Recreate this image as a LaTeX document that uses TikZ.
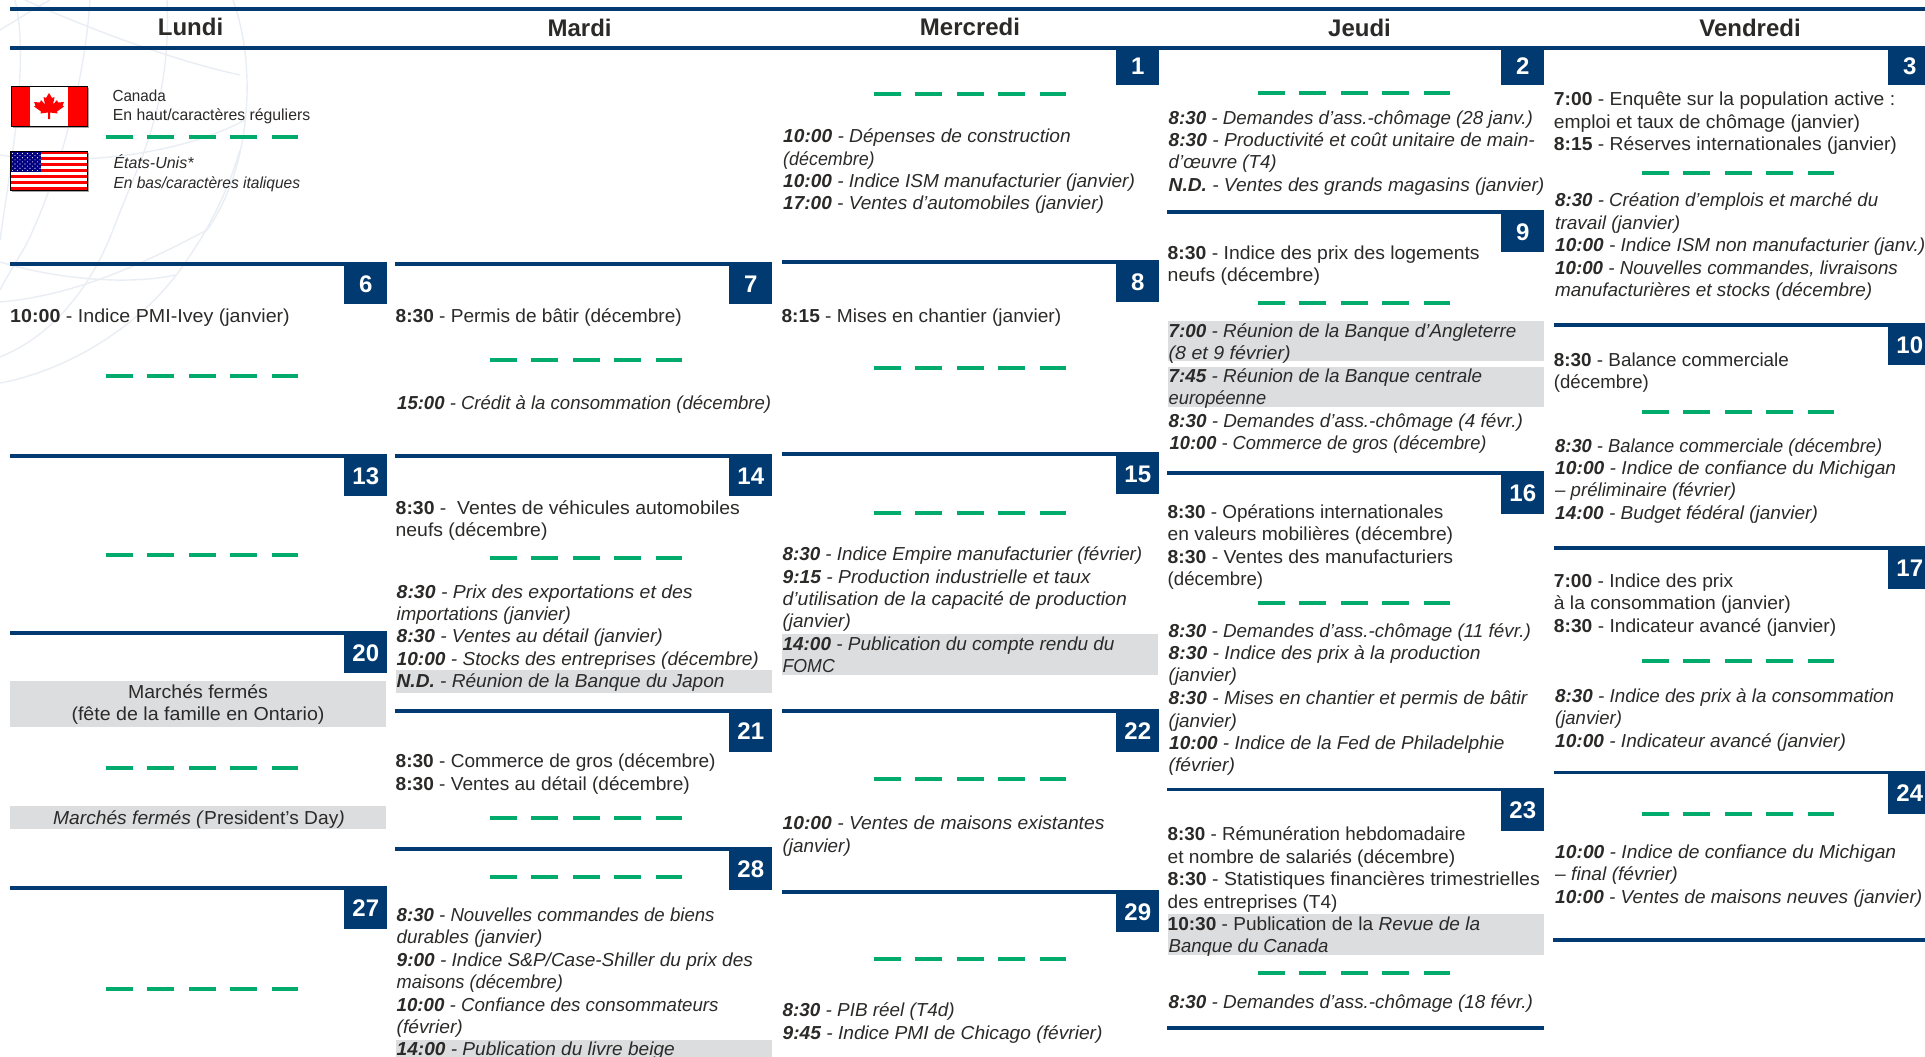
\documentclass[tikz,border=0pt]{standalone}
\usepackage{graphicx}
\usepackage{fontspec}
\setmainfont{Liberation Sans}
\definecolor{navy}{HTML}{003A70}
\definecolor{dashgreen}{HTML}{00AB6B}
\definecolor{barfill}{HTML}{DCDDDF}
\definecolor{ink}{HTML}{2B2A29}
\definecolor{globe}{HTML}{E9EEF5}
\newcounter{tln}
\newsavebox\tlbox
\tikzset{
  txtline/.style={anchor=base west,inner sep=0pt,text=ink,font=\fontsize{18.8}{22}\selectfont},
  legendline/.style={txtline,font=\fontsize{16}{20}\selectfont},
  midline/.style={txtline,anchor=base},
  dayname/.style={anchor=base,inner sep=0pt,text=ink,font=\fontsize{24}{28}\selectfont\bfseries},
  numbox/.style={anchor=north east,fill=navy,text=white,inner sep=0pt,minimum width=43pt,font=\fontsize{24}{28}\selectfont\bfseries},
  rulebar/.style={draw=navy,line width=3.7pt},
  greendash/.style={draw=dashgreen,line width=4pt,dash pattern=on 26.7pt off 14.7pt},
  barbg/.style={fill=barfill},
  globeline/.style={draw=globe,line width=1.4pt}
}
% set a text to a given width by horizontal scaling
\newcommand\fitw[2]{\sbox\tlbox{#2}\pgfmathsetmacro\fitf{(#1)/\the\wd\tlbox}\scalebox{\fitf}[1]{\usebox\tlbox}}
% one line of text: x-start, x-end, baseline y, text
\newcommand\tl[4]{\stepcounter{tln}\node[txtline] (tl\arabic{tln}) at (#1,#3) {\fitw{#2-#1}{#4}};}
% regular and italic entries
\newcommand\Rg[2]{{\bfseries #1} - #2}
\newcommand\It[2]{{\bfseries\itshape #1}\itshape{} - #2}
% separator of five green dashes
\newcommand\gd[2]{\path[greendash] (#1,#2) -- ++(192,0);}
% day rule and number boxes
\newcommand\dayrule[3]{\path[rulebar] (#1,#3) -- (#2,#3);}
\newcommand\numb[4]{\node[numbox,minimum height=#3-#2] (day#4) at (#1,#2) {\raisebox{-1.8pt}{\kern1pt #4}};}
\newcommand\numbtop[4]{\node[numbox,minimum height=#3-#2] (day#4) at (#1,#2) {\raisebox{0.3pt}{\kern1pt #4}};}
\begin{document}
\begin{tikzpicture}[x=1pt,y=-1pt]
\path[use as bounding box,clip] (0,0) rectangle (1925,1057);
\fill[white] (0,0) rectangle (1925,1057);
% watermark globe
\path[globeline] (0,302) .. controls (80,295) and (150,260) .. (207,230) .. controls (250,170) and (258,70) .. (233,0);
\path[globeline] (0,383) .. controls (70,370) and (140,325) .. (180,270) .. controls (205,235) and (225,200) .. (240,150);
\path[globeline] (0,357) .. controls (50,337) and (90,290) .. (113,230) .. controls (135,170) and (172,110) .. (167,0);
\path[globeline] (0,290) .. controls (10,270) and (25,250) .. (33,230) .. controls (60,170) and (85,80) .. (90,0);
\path[globeline] (25,0) .. controls (80,25) and (170,60) .. (240,75);
\path[globeline] (0,155) .. controls (60,165) and (170,160) .. (245,120);
\path[globeline] (0,30) .. controls (20,18) and (35,8) .. (50,0);
\path[globeline] (0,240) .. controls (10,170) and (30,60) .. (15,0);
\path[globeline] (0,262) .. controls (60,280) and (130,285) .. (175,275);
% day rules
\path[rulebar] (10,9.2) -- (1925,9.2);
\path[rulebar] (10,48) -- (1925,48);
\dayrule{10}{387}{264}\dayrule{10}{387}{456}\dayrule{10}{387}{632.9}\dayrule{10}{387}{888}
\dayrule{395}{772}{264}\dayrule{395}{772}{456}\dayrule{395}{772}{711}\dayrule{395}{772}{848.7}
\dayrule{782}{1159}{262}\dayrule{782}{1159}{454}\dayrule{782}{1159}{711}\dayrule{782}{1159}{891.9}
\dayrule{1167}{1544}{212}\dayrule{1167}{1544}{473}\dayrule{1167}{1544}{789.5}\dayrule{1167}{1544}{1027.8}
\dayrule{1554}{1925}{325}\dayrule{1554}{1925}{547.9}\dayrule{1554}{1925}{772.6}\dayrule{1553}{1925}{940.1}
% grey bars
\fill[barbg] (10,680.9) rectangle (386,726.9);
\fill[barbg] (10,806.4) rectangle (386,829.3);
\fill[barbg] (396,670.2) rectangle (772,692.7);
\fill[barbg] (396,1039.9) rectangle (772,1057);
\fill[barbg] (782,634.4) rectangle (1158,674.9);
\fill[barbg] (1168,321) rectangle (1544,361.4);
\fill[barbg] (1168,366.5) rectangle (1544,406.7);
\fill[barbg] (1168,914.2) rectangle (1544,954.9);
% number boxes
\numb{387}{264}{304}{6}\numb{387}{456}{496}{13}\numb{387}{632.9}{673.2}{20}\numb{387}{888}{928.7}{27}
\numb{772}{264}{304}{7}\numb{772}{456}{496}{14}\numb{772}{711}{751.7}{21}\numb{772}{848.7}{889.9}{28}
\numbtop{1159}{48}{85}{1}\numb{1159}{262}{302}{8}\numb{1159}{454}{494}{15}\numb{1159}{711}{751.7}{22}\numb{1159}{891.9}{931.7}{29}
\numbtop{1544}{48}{85}{2}\numb{1544}{212}{252}{9}\numb{1544}{473}{514}{16}\numb{1544}{789.5}{830.3}{23}
\numbtop{1931}{48}{85}{3}\numb{1931}{325}{365}{10}\numb{1931}{547.9}{588.7}{17}\numb{1931}{772.6}{813.4}{24}
% green dashes
\gd{106}{137}\gd{106}{375.6}\gd{106}{554.6}\gd{106}{767.6}\gd{106}{989.2}
\gd{490}{360.4}\gd{490}{558.2}\gd{490}{818.3}\gd{490}{876.5}
\gd{874}{94}\gd{874}{368}\gd{874}{513}\gd{874}{779.1}\gd{874}{958.5}
\gd{1258}{93}\gd{1258}{303}\gd{1258}{603.3}\gd{1258}{973}
\gd{1642}{173.4}\gd{1642}{412}\gd{1642}{660.7}\gd{1642}{814.4}
% day names
\node[dayname] (lundi) at (190.5,35.5) {Lundi};
\node[dayname] (mardi) at (579.6,36.5) {Mardi};
\node[dayname] (mercredi) at (970,35.5) {Mercredi};
\node[dayname] (jeudi) at (1359.5,36.5) {Jeudi};
\node[dayname] (vendredi) at (1750,36.5) {Vendredi};
% Canadian flag
\fill[gray!70] (12.5,87.5) rectangle (88.5,127.5);
\fill[white] (11,86) rectangle (87,126);
\fill[red] (11,86) rectangle (30,126);
\fill[red] (68,86) rectangle (87,126);
\fill[red,shift={(49,106)}] (0,-13) -- (3,-8) -- (5.5,-9) -- (4,-1.5) -- (8,-6) -- (9,-3.5) -- (15,-4) -- (13.5,-0.5) -- (15,0.5) -- (8,5.5) -- (8.5,7.5) -- (1,6.5) -- (1,13) -- (-1,13) -- (-1,6.5) -- (-8.5,7.5) -- (-8,5.5) -- (-15,0.5) -- (-13.5,-0.5) -- (-15,-4) -- (-9,-3.5) -- (-8,-6) -- (-4,-1.5) -- (-5.5,-9) -- (-3,-8) -- cycle;
\draw[black,line width=0.9pt] (11,86) rectangle (87,126);
% American flag
\fill[gray!70] (11.5,152.5) rectangle (88.5,191.5);
\fill[white] (10,151) rectangle (87,190);
\foreach \s in {0,2,...,12}{\fill[red] (10,151+3*\s) rectangle (87,154+3*\s);}
\fill[blue!50!black] (10,151) rectangle (41,172);
\foreach \rw in {0,...,8}{\foreach \cl in {0,...,5}{\fill[white] ({12.5+\cl*5.0+mod(\rw,2)*2.5},{153.5+\rw*2.1}) circle (0.55);}}
\draw[black,line width=0.9pt] (10,151) rectangle (87,190);
% legend
\node[legendline] (lg1) at (112.3,101.2) {\fitw{53.4}{Canada}};
\node[legendline] (lg2) at (112.7,120) {\fitw{197.3}{En haut/caractères réguliers}};
\node[legendline] (lg3) at (113.3,168.2) {\fitw{80}{\itshape États-Unis*}};
\node[legendline] (lg4) at (113.3,188) {\fitw{186.7}{\itshape En bas/caractères italiques}};
% column 1
\tl{10}{289.6}{322.3}{\Rg{10:00}{Indice PMI-Ivey (janvier)}}
\node[midline] (ferme1) at (198,698) {\fitw{139.8}{Marchés fermés}};
\node[midline] (ferme2) at (198,720.2) {\fitw{253}{(fête de la famille en Ontario)}};
\node[midline] (ferme3) at (199,824.3) {\fitw{291.6}{\textit{Marchés fermés (}President's Day\textit{)}}};
% column 2
\tl{395.5}{681.6}{322.3}{\Rg{8:30}{Permis de bâtir (décembre)}}
\tl{397}{771}{409.7}{\It{15:00}{Crédit à la consommation (décembre)}}
\tl{395.5}{739.8}{514.5}{\Rg{8:30}{ Ventes de véhicules automobiles}}
\tl{395.5}{547.3}{536.7}{neufs (décembre)}
\tl{396.5}{692.5}{598.9}{\It{8:30}{Prix des exportations et des}}
\tl{396.5}{570.6}{620.8}{\textit{importations (janvier)}}
\tl{396.5}{662.7}{642.6}{\It{8:30}{Ventes au détail (janvier)}}
\tl{396.5}{758.7}{665.4}{\It{10:00}{Stocks des entreprises (décembre)}}
\tl{396.5}{724.4}{687.6}{\It{N.D.}{Réunion de la Banque du Japon}}
\tl{395.5}{715.4}{767.6}{\Rg{8:30}{Commerce de gros (décembre)}}
\tl{395.5}{689.6}{790.5}{\Rg{8:30}{Ventes au détail (décembre)}}
\tl{396.5}{714.4}{921.6}{\It{8:30}{Nouvelles commandes de biens}}
\tl{396.5}{542.3}{943.6}{\textit{durables (janvier)}}
\tl{396.5}{752.7}{966.3}{\It{9:00}{Indice S\&P/Case-Shiller du prix des}}
\tl{396.5}{562.7}{988.9}{\textit{maisons (décembre)}}
\tl{396.5}{718.4}{1011}{\It{10:00}{Confiance des consommateurs}}
\tl{396.5}{462.7}{1033.5}{\textit{(février)}}
\tl{396.5}{674.6}{1055}{\It{14:00}{Publication du livre beige}}
% column 3
\tl{783}{1070.5}{142.7}{\It{10:00}{Dépenses de construction}}
\tl{783}{874.5}{165}{\textit{(décembre)}}
\tl{783}{1134.7}{187.6}{\It{10:00}{Indice ISM manufacturier (janvier)}}
\tl{783}{1103.8}{209.6}{\It{17:00}{Ventes d’automobiles (janvier)}}
\tl{781.4}{1061}{322.3}{\Rg{8:15}{Mises en chantier (janvier)}}
\tl{782.4}{1142.1}{560.6}{\It{8:30}{Indice Empire manufacturier (février)}}
\tl{782.4}{1090.4}{583.1}{\It{9:15}{Production industrielle et taux}}
\tl{782.4}{1126.7}{605.6}{\textit{d’utilisation de la capacité de production}}
\tl{782.4}{850.6}{627.4}{\textit{(janvier)}}
\tl{782.4}{1114.3}{650.3}{\It{14:00}{Publication du compte rendu du}}
\tl{782.4}{834.7}{672.5}{\textit{FOMC}}
\tl{782.4}{1104.3}{829.3}{\It{10:00}{Ventes de maisons existantes}}
\tl{782.4}{850.6}{852}{\textit{(janvier)}}
\tl{782.4}{954.6}{1016.2}{\It{8:30}{PIB réel (T4d)}}
\tl{782.4}{1102.3}{1039.1}{\It{9:45}{Indice PMI de Chicago (février)}}
% column 4
\tl{1168.5}{1532.7}{124.4}{\It{8:30}{Demandes d’ass.-chômage (28 janv.)}}
\tl{1168.5}{1534.7}{146.4}{\It{8:30}{Productivité et coût unitaire de main-}}
\tl{1168.5}{1276.5}{168.4}{\textit{d’œuvre (T4)}}
\tl{1168.5}{1544.1}{191.3}{\It{N.D.}{Ventes des grands magasins (janvier)}}
\tl{1167.5}{1479.5}{259.6}{\Rg{8:30}{Indice des prix des logements}}
\tl{1167.5}{1319.8}{281.6}{neufs (décembre)}
\tl{1168.5}{1516.3}{337.4}{\It{7:00}{Réunion de la Banque d’Angleterre}}
\tl{1168.5}{1290.4}{359.7}{\textit{(8 et 9 février)}}
\tl{1168.5}{1482}{382.4}{\It{7:45}{Réunion de la Banque centrale}}
\tl{1168.5}{1266}{404.7}{\textit{européenne}}
\tl{1168.5}{1522.7}{427.6}{\It{8:30}{Demandes d’ass.-chômage (4 févr.)}}
\tl{1169.5}{1486.4}{449.6}{\It{10:00}{Commerce de gros (décembre)}}
\tl{1167.5}{1443.1}{518.6}{\Rg{8:30}{Opérations internationales}}
\tl{1167.5}{1453}{540}{en valeurs mobilières (décembre)}
\tl{1167.5}{1453}{563.6}{\Rg{8:30}{Ventes des manufacturiers}}
\tl{1167.5}{1263}{585.5}{(décembre)}
\tl{1168.5}{1530.7}{637.6}{\It{8:30}{Demandes d’ass.-chômage (11 févr.)}}
\tl{1168.5}{1480.4}{659.8}{\It{8:30}{Indice des prix à la production}}
\tl{1168.5}{1236.7}{681.9}{\textit{(janvier)}}
\tl{1168.5}{1527.2}{704.8}{\It{8:30}{Mises en chantier et permis de bâtir}}
\tl{1168.5}{1236.7}{727.3}{\textit{(janvier)}}
\tl{1169}{1504.3}{749.5}{\It{10:00}{Indice de la Fed de Philadelphie}}
\tl{1168.5}{1234.7}{771.3}{\textit{(février)}}
\tl{1167.5}{1465.5}{840.6}{\Rg{8:30}{Rémunération hebdomadaire}}
\tl{1167.5}{1455}{863.5}{et nombre de salariés (décembre)}
\tl{1167.5}{1539.7}{885.7}{\Rg{8:30}{Statistiques financières trimestrielles}}
\tl{1167.5}{1337.2}{908.1}{des entreprises (T4)}
\tl{1167.5}{1480}{930.3}{\Rg{10:30}{Publication de la \textit{Revue de la}}}
\tl{1168.5}{1328.2}{952.6}{\textit{Banque du Canada}}
\tl{1168.5}{1532.7}{1008.3}{\It{8:30}{Demandes d’ass.-chômage (18 févr.)}}
% column 5
\tl{1553.7}{1895}{105.5}{\Rg{7:00}{Enquête sur la population active :}}
\tl{1553.7}{1860}{128.5}{emploi et taux de chômage (janvier)}
\tl{1553.7}{1896.7}{150.4}{\Rg{8:15}{Réserves internationales (janvier)}}
\tl{1555}{1878}{206.9}{\It{8:30}{Création d’emplois et marché du}}
\tl{1555}{1680}{229.2}{\textit{travail (janvier)}}
\tl{1555}{1925}{251.9}{\It{10:00}{Indice ISM non manufacturier (janv.)}}
\tl{1555}{1897.7}{274.5}{\It{10:00}{Nouvelles commandes, livraisons}}
\tl{1555}{1872}{296.8}{\textit{manufacturières et stocks (décembre)}}
\tl{1553.7}{1788.7}{366.5}{\Rg{8:30}{Balance commerciale}}
\tl{1553.7}{1648.7}{388.8}{(décembre)}
\tl{1555}{1882}{452.3}{\It{8:30}{Balance commerciale (décembre)}}
\tl{1555}{1896}{474.3}{\It{10:00}{Indice de confiance du Michigan}}
\tl{1555}{1736}{496.6}{\textit{– préliminaire (février)}}
\tl{1555}{1817.7}{519}{\It{14:00}{Budget fédéral (janvier)}}
\tl{1553.7}{1733}{587.2}{\Rg{7:00}{Indice des prix}}
\tl{1553.7}{1790.7}{609.5}{à la consommation (janvier)}
\tl{1553.7}{1836}{632.2}{\Rg{8:30}{Indicateur avancé (janvier)}}
\tl{1555}{1894}{702.4}{\It{8:30}{Indice des prix à la consommation}}
\tl{1555}{1621.7}{724.9}{\textit{(janvier)}}
\tl{1555}{1845.7}{747.5}{\It{10:00}{Indicateur avancé (janvier)}}
\tl{1555}{1896}{858.4}{\It{10:00}{Indice de confiance du Michigan}}
\tl{1555}{1677.7}{880.6}{\textit{– final (février)}}
\tl{1555}{1922}{903.2}{\It{10:00}{Ventes de maisons neuves (janvier)}}
\end{tikzpicture}
\end{document}
